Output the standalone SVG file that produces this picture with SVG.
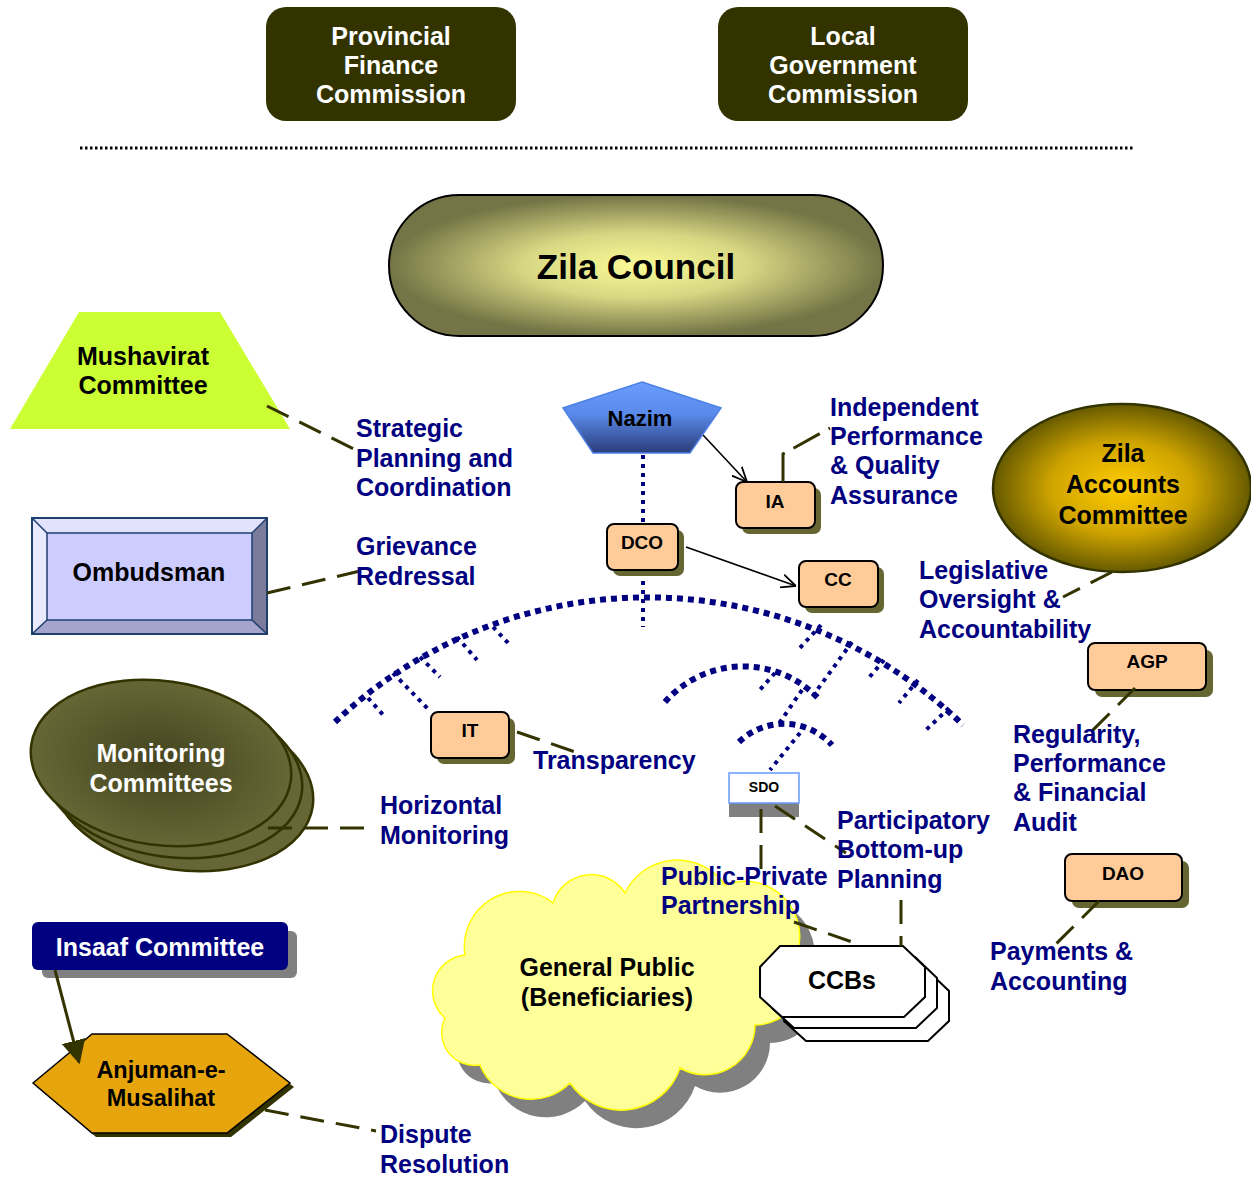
<svg xmlns="http://www.w3.org/2000/svg" width="1251" height="1178" viewBox="0 0 1251 1178">
<style>
text{font-family:"Liberation Sans",Arial,Helvetica,sans-serif;font-weight:bold}
.lbl{font-size:25px;fill:#000080}
.c{text-anchor:middle}
.w{fill:#ffffff}
.k{fill:#000000}
.dash{stroke:#333300;stroke-width:3;stroke-dasharray:24 12;fill:none}
.arcd{stroke:#000080;stroke-width:6;stroke-dasharray:6 5;fill:none}
.tick{stroke:#000080;stroke-width:4;stroke-dasharray:4 5;fill:none}
.box{fill:#ffcc99;stroke:#000;stroke-width:2}
.shd{fill:#666633}
.ccb{fill:#fff;stroke:#000;stroke-width:2}
.mc{stroke:#333300;stroke-width:2.5}
</style>
<defs>
<radialGradient id="gZC" cx="0.5" cy="0.5" r="0.5">
<stop offset="0" stop-color="#fafa96"/>
<stop offset="0.45" stop-color="#d8d884"/>
<stop offset="1" stop-color="#747446"/>
</radialGradient>
<radialGradient id="gZA" cx="0.5" cy="0.5" r="0.5">
<stop offset="0" stop-color="#ffcc00"/>
<stop offset="0.55" stop-color="#cfa400"/>
<stop offset="1" stop-color="#665a00"/>
</radialGradient>
<radialGradient id="gMC" cx="0.5" cy="0.5" r="0.5">
<stop offset="0" stop-color="#43431f"/>
<stop offset="1" stop-color="#666636"/>
</radialGradient>
<linearGradient id="gNz" x1="0" y1="0" x2="0" y2="1">
<stop offset="0" stop-color="#6a9cff"/>
<stop offset="0.45" stop-color="#5a8aea"/>
<stop offset="1" stop-color="#2a3c78"/>
</linearGradient>
<marker id="aO" viewBox="0 0 10 10" refX="10" refY="5" markerWidth="15" markerHeight="15" markerUnits="userSpaceOnUse" orient="auto">
<path d="M0,0.5 L10,5 L0,9.5" fill="none" stroke="#000" stroke-width="1.2"/>
</marker>
<marker id="aF" viewBox="0 0 10 10" refX="9" refY="5" markerWidth="24" markerHeight="24" markerUnits="userSpaceOnUse" orient="auto">
<path d="M0,0 L10,5 L0,10 z" fill="#333300"/>
</marker>
<path id="cloud" d="M465,955 A55,55 0 0 1 553,903 A40,40 0 0 1 625,893 A58,58 0 0 1 725,885 A55,55 0 0 1 798,950 A50,50 0 0 1 755,1025 A50,50 0 0 1 680,1068 A62,62 0 0 1 570,1083 A55,55 0 0 1 480,1065 A33,33 0 0 1 445,1018 A36,36 0 0 1 465,955 Z"/>
</defs>
<rect width="1251" height="1178" fill="#ffffff"/>

<g id="pfc">
<rect x="266" y="7" width="250" height="114" rx="20" fill="#333300"/>
<text class="w c" font-size="25" x="391" y="45">Provincial</text>
<text class="w c" font-size="25" x="391" y="74">Finance</text>
<text class="w c" font-size="25" x="391" y="103">Commission</text>
</g>
<g id="lgc">
<rect x="718" y="7" width="250" height="114" rx="20" fill="#333300"/>
<text class="w c" font-size="25" x="843" y="45">Local</text>
<text class="w c" font-size="25" x="843" y="74">Government</text>
<text class="w c" font-size="25" x="843" y="103">Commission</text>
</g>
<line x1="80" y1="148" x2="1135" y2="148" stroke="#000" stroke-width="3" stroke-dasharray="2.5 2.5"/>

<g id="zila-council">
<rect x="389" y="195" width="494" height="141" rx="70.5" fill="url(#gZC)" stroke="#000" stroke-width="2"/>
<text class="k c" font-size="35" x="636" y="279">Zila Council</text>
</g>

<g id="connectors-dotted">
<path class="arcd" d="M335,722 A454,454 0 0 1 963,725"/>
<path class="arcd" d="M665,702 A104,104 0 0 1 818,698"/>
<path class="arcd" d="M739,742 A65,65 0 0 1 832,745"/>
<line class="tick" x1="643" y1="455" x2="643" y2="627"/>
<line class="tick" x1="368" y1="698" x2="385" y2="717"/>
<line class="tick" x1="393" y1="673" x2="430" y2="711"/>
<line class="tick" x1="420" y1="657" x2="440" y2="677"/>
<line class="tick" x1="457" y1="637" x2="477" y2="660"/>
<line class="tick" x1="493" y1="627" x2="510" y2="645"/>
<line class="tick" x1="821" y1="625" x2="798" y2="650"/>
<line class="tick" x1="852" y1="642" x2="812" y2="697"/>
<line class="tick" x1="884" y1="660" x2="867" y2="680"/>
<line class="tick" x1="918" y1="680" x2="899" y2="703"/>
<line class="tick" x1="949" y1="708" x2="926" y2="730"/>
<line class="tick" x1="775" y1="673" x2="758" y2="692"/>
<line class="tick" x1="802" y1="690" x2="778" y2="725"/>
<line class="tick" x1="800" y1="733" x2="770" y2="770"/>
<line x1="703" y1="435" x2="747" y2="482" stroke="#000" stroke-width="1.6" marker-end="url(#aO)"/>
<line x1="686" y1="547" x2="796" y2="586" stroke="#000" stroke-width="1.6" marker-end="url(#aO)"/>
</g>

<g id="mushavirat">
<polygon points="10,429 290,429 220,312 79,312" fill="#ccff33"/>
<text class="k c" font-size="25" x="143" y="365">Mushavirat</text>
<text class="k c" font-size="25" x="143" y="394">Committee</text>
</g>

<g id="ombudsman">
<polygon points="32,518 267,518 252,533 47,533" fill="#e2e2fc"/>
<polygon points="32,518 47,533 47,620 32,634" fill="#e8e8ff"/>
<polygon points="267,518 267,634 252,620 252,533" fill="#7b7b9c"/>
<polygon points="32,634 267,634 252,620 47,620" fill="#a4a4cc"/>
<rect x="47" y="533" width="205" height="87" fill="#ccccff" stroke="#1f3f6f" stroke-width="1.5"/>
<rect x="32" y="518" width="235" height="116" fill="none" stroke="#1f3f6f" stroke-width="2"/>
<line x1="32" y1="518" x2="47" y2="533" stroke="#1f3f6f" stroke-width="1.5"/>
<line x1="267" y1="518" x2="252" y2="533" stroke="#1f3f6f" stroke-width="1.5"/>
<line x1="32" y1="634" x2="47" y2="620" stroke="#1f3f6f" stroke-width="1.5"/>
<line x1="267" y1="634" x2="252" y2="620" stroke="#1f3f6f" stroke-width="1.5"/>
<text class="k c" font-size="25" x="149" y="581">Ombudsman</text>
</g>

<g id="monitoring">
<ellipse cx="183" cy="788" rx="131" ry="82" transform="rotate(8 183 788)" fill="#666636" class="mc"/>
<ellipse cx="172" cy="775" rx="131" ry="82" transform="rotate(8 172 775)" fill="#666636" class="mc"/>
<ellipse cx="161" cy="763" rx="131" ry="82" transform="rotate(8 161 763)" fill="url(#gMC)" class="mc"/>
<text class="w c" font-size="25" x="161" y="762">Monitoring</text>
<text class="w c" font-size="25" x="161" y="792">Committees</text>
</g>

<g id="insaaf">
<rect x="42" y="931" width="255" height="47" rx="6" fill="#808080"/>
<rect x="32" y="922" width="256" height="48" rx="6" fill="#000080"/>
<text class="w c" font-size="25" x="160" y="956">Insaaf Committee</text>
</g>

<g id="anjuman">
<polygon points="37,1087 96,1038 231,1038 294,1087 231,1137 96,1137" fill="#333300"/>
<polygon points="33,1083 92,1034 227,1034 290,1083 227,1133 92,1133" fill="#e6a50c" stroke="#000" stroke-width="1.5"/>
<text class="k c" font-size="23.5" x="161" y="1078">Anjuman-e-</text>
<text class="k c" font-size="23.5" x="161" y="1106">Musalihat</text>
</g>

<g id="nazim">
<polygon points="642,382 721,408 690,453 593,453 563,408" fill="url(#gNz)" stroke="#4d80e6" stroke-width="1.5"/>
<text class="k c" font-size="22" x="640" y="426">Nazim</text>
</g>
<g id="ia">
<rect x="742" y="488" width="79" height="46" rx="7" class="shd"/>
<rect x="736" y="482" width="79" height="46" rx="7" class="box"/>
<text class="k c" font-size="19" x="775" y="508">IA</text>
</g>
<g id="dco">
<rect x="613" y="530" width="71" height="46" rx="7" class="shd"/>
<rect x="607" y="524" width="71" height="46" rx="7" class="box"/>
<text class="k c" font-size="19" x="642" y="549">DCO</text>
</g>
<g id="cc">
<rect x="805" y="567" width="79" height="46" rx="7" class="shd"/>
<rect x="799" y="561" width="79" height="46" rx="7" class="box"/>
<text class="k c" font-size="19" x="838" y="586">CC</text>
</g>
<g id="it">
<rect x="437" y="718" width="78" height="46" rx="7" class="shd"/>
<rect x="431" y="712" width="78" height="46" rx="7" class="box"/>
<text class="k c" font-size="19" x="470" y="737">IT</text>
</g>
<g id="agp">
<rect x="1095" y="650" width="118" height="47" rx="7" class="shd"/>
<rect x="1088" y="643" width="118" height="47" rx="7" class="box"/>
<text class="k c" font-size="19" x="1147" y="668">AGP</text>
</g>
<g id="dao">
<rect x="1072" y="861" width="117" height="47" rx="7" class="shd"/>
<rect x="1065" y="854" width="117" height="47" rx="7" class="box"/>
<text class="k c" font-size="19" x="1123" y="880">DAO</text>
</g>

<g id="zila-accounts">
<ellipse cx="1122" cy="488" rx="129" ry="84" fill="url(#gZA)" stroke="#333300" stroke-width="2.5"/>
<text class="k c" font-size="25" x="1123" y="462">Zila</text>
<text class="k c" font-size="25" x="1123" y="493">Accounts</text>
<text class="k c" font-size="25" x="1123" y="524">Committee</text>
</g>

<g id="sdo">
<rect x="729" y="790" width="70" height="27" fill="#808080"/>
<rect x="729" y="773" width="70" height="30" fill="#ffffff" stroke="#6699ff" stroke-width="1.5"/>
<text class="k c" font-size="14" x="764" y="792">SDO</text>
</g>

<g id="general-public">
<use href="#cloud" transform="translate(15,18)" fill="#808080"/>
<use href="#cloud" fill="#ffff99" stroke="#ffff00" stroke-width="1.5"/>
<text class="k c" font-size="25" x="607" y="976">General Public</text>
<text class="k c" font-size="25" x="607" y="1006">(Beneficiaries)</text>
</g>

<g id="ccbs">
<polygon class="ccb" points="804,970 927,970 949,991 949,1021 928,1041 806,1041 784,1021 784,991"/>
<polygon class="ccb" points="792,957 915,957 937,978 937,1008 916,1028 794,1028 772,1008 772,978"/>
<polygon class="ccb" points="780,946 903,946 925,967 925,997 904,1017 782,1017 760,997 760,967"/>
<text class="k c" font-size="25" x="842" y="989">CCBs</text>
</g>

<g id="connectors">
<line x1="55" y1="970" x2="79" y2="1062" stroke="#333300" stroke-width="3" marker-end="url(#aF)"/>
<line class="dash" x1="267" y1="406" x2="360" y2="452"/>
<line class="dash" x1="267" y1="593" x2="360" y2="571"/>
<line class="dash" x1="268" y1="828" x2="376" y2="828"/>
<line class="dash" x1="265" y1="1110" x2="376" y2="1131"/>
<polyline class="dash" style="stroke-dasharray:30 10" points="783,482 783,454 830,428"/>
<line class="dash" x1="1112" y1="572" x2="1063" y2="597"/>
<line class="dash" x1="1135" y1="688" x2="1090" y2="733"/>
<line class="dash" x1="1099" y1="901" x2="1051" y2="949"/>
<line class="dash" x1="517" y1="732" x2="584" y2="755"/>
<line class="dash" x1="761" y1="809" x2="761" y2="877"/>
<line class="dash" x1="775" y1="806" x2="846" y2="853"/>
<line class="dash" x1="794" y1="922" x2="858" y2="944"/>
<line class="dash" x1="901" y1="900" x2="901" y2="946"/>
</g>

<g id="labels">
<text class="lbl" x="356" y="437">Strategic</text>
<text class="lbl" x="356" y="467">Planning and</text>
<text class="lbl" x="356" y="496">Coordination</text>
<text class="lbl" x="356" y="555">Grievance</text>
<text class="lbl" x="356" y="585">Redressal</text>
<text class="lbl" x="830" y="416">Independent</text>
<text class="lbl" x="830" y="445">Performance</text>
<text class="lbl" x="830" y="474">&amp; Quality</text>
<text class="lbl" x="830" y="504">Assurance</text>
<text class="lbl" x="919" y="579">Legislative</text>
<text class="lbl" x="919" y="608">Oversight &amp;</text>
<text class="lbl" x="919" y="638">Accountability</text>
<text class="lbl" x="1013" y="743">Regularity,</text>
<text class="lbl" x="1013" y="772">Performance</text>
<text class="lbl" x="1013" y="801">&amp; Financial</text>
<text class="lbl" x="1013" y="831">Audit</text>
<text class="lbl" x="533" y="769">Transparency</text>
<text class="lbl" x="380" y="814">Horizontal</text>
<text class="lbl" x="380" y="844">Monitoring</text>
<text class="lbl" x="837" y="829">Participatory</text>
<text class="lbl" x="837" y="858">Bottom-up</text>
<text class="lbl" x="837" y="888">Planning</text>
<text class="lbl" x="661" y="885">Public-Private</text>
<text class="lbl" x="661" y="914">Partnership</text>
<text class="lbl" x="990" y="960">Payments &amp;</text>
<text class="lbl" x="990" y="990">Accounting</text>
<text class="lbl" x="380" y="1143">Dispute</text>
<text class="lbl" x="380" y="1173">Resolution</text>
</g>
</svg>
